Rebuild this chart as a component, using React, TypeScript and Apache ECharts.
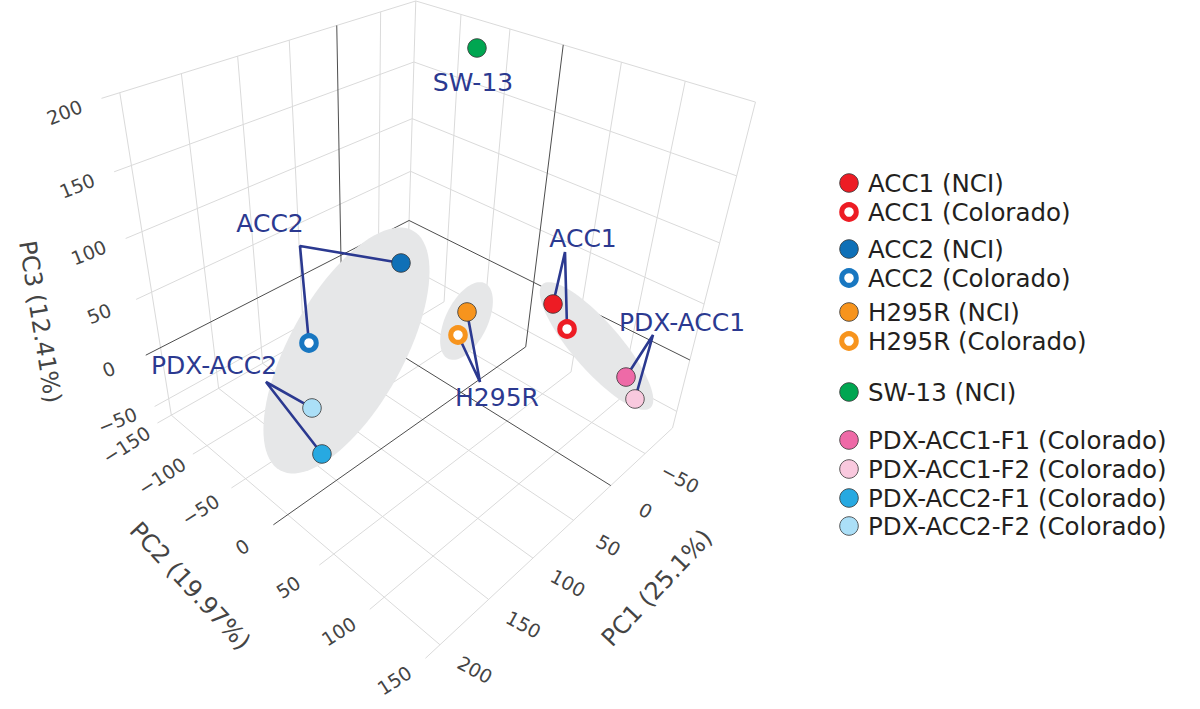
import React, { useEffect, useRef } from "react";
import * as echarts from "echarts";

// ---------------- data ----------------
const samples = [
  "ACC1 (NCI)", "ACC1 (Colorado)", "ACC2 (NCI)", "ACC2 (Colorado)",
  "H295R (NCI)", "H295R (Colorado)", "SW-13 (NCI)",
  "PDX-ACC1-F1 (Colorado)", "PDX-ACC1-F2 (Colorado)",
  "PDX-ACC2-F1 (Colorado)", "PDX-ACC2-F2 (Colorado)",
];
const pc1 = [-57.7, -56.9, 18.7, 118.8, -3.6, 14.5, -76.8, -82.3, -81.7, 154.5, 148.4];
const pc2 = [43.3, 60.0, -57.6, -62.0, -3.0, 3.4, -68.6, 106.4, 118.2, -10.7, -27.2];
const pc3 = [15, 0, 40, 10, 10, 0, 185, -35, -50, -45, -15];
const sampleColors = [
  "#ed1c24", "#ed1c24", "#0f70b7", "#1877c1", "#f7941d", "#f7941d", "#00a651",
  "#ee6aa7", "#f9c9de", "#27a9e1", "#abdff7",
];
const hollow = [false, true, false, true, false, true, false, false, false, false, false];

const pc1Ticks = [-50, 0, 50, 100, 150, 200];
const pc2Ticks = [-150, -100, -50, 0, 50, 100, 150];
const pc3Ticks = [-50, 0, 50, 100, 150, 200];
const pc1Range = [-93, 214];
const pc2Range = [-150, 150];
const pc3Range = [-67, 200];
const axisTitles = ["PC1 (25.1%)", "PC2 (19.97%)", "PC3 (12.41%)"];

const groupLabels = ["SW-13", "ACC2", "PDX-ACC2", "H295R", "ACC1", "PDX-ACC1"];
const groupMembers = [[6], [2, 3], [10, 9], [4, 5], [0, 1], [7, 8]];
const clusterMembers = [[2, 3, 9, 10], [4, 5], [0, 1, 7, 8]];

// ---------------- layout ----------------
type V3 = [number, number, number];
// screen anchors of the 3D frame (box corners / grid crossings) used to fit the camera
const FRAME_ANCHORS: { p: V3; s: [number, number] }[] = [
  { p: [-93, -150, 200], s: [420, 6] },
  { p: [-93, -150, 0], s: [409, 216] },
  { p: [214, -150, 200], s: [98, 99] },
  { p: [214, -150, 0], s: [143, 347] },
  { p: [-93, 150, 200], s: [757, 100] },
  { p: [-93, 150, 0], s: [693, 350] },
  { p: [-93, 150, -67], s: [670, 430] },
  { p: [-93, 0, -67], s: [527, 352] },
  { p: [214, 0, -67], s: [277, 528] },
  { p: [0, 150, -67], s: [610, 488] },
  { p: [200, 150, -67], s: [440, 645] },
  { p: [0, -150, 200], s: [333, 28] },
  { p: [-93, 0, 200], s: [565, 45] },
  { p: [0, -150, 0], s: [338, 252] },
  { p: [-50, 150, -67], s: [641, 456] },
  { p: [100, 150, -67], s: [532, 560] },
  { p: [214, -100, -67], s: [198, 460] },
  { p: [214, 50, -67], s: [322, 565] },
  { p: [214, 100, -67], s: [370, 607] },
  { p: [214, 150, -67], s: [423, 657] },
];
const LABEL_POS = [[473, 82], [270, 223], [214, 365], [497, 397], [583, 238], [682, 322]];
const LEADER_VERTEX: (number[] | null)[] = [null, [300, 246], [266, 382], [480, 382], [565, 252], [653, 335]];
// [dx from cluster centroid, dy, semi-major, semi-minor, angle deg]
const ELLIPSES = [
  [10.5, -16.5, 137, 57, 61],
  [4, -2.5, 42, 21, 64],
  [1.25, -6.25, 82, 24, -49],
];
const LEGEND_Y = [183, 212, 249, 278, 312, 341, 392, 440, 469, 498, 526];
const NAVY = "#2b3990";
const FONT = '"DejaVu Sans", Verdana, sans-serif';

const n3 = (p: number[]) => [(p[0] - 60) / 155, p[1] / 150, (p[2] - 66) / 133];
const n2 = (s: number[]) => [(s[0] - 420) / 300, (s[1] - 330) / 300];

function fitCamera(): number[] {
  const rows: number[][] = [];
  const rhs: number[] = [];
  for (const a of FRAME_ANCHORS) {
    const [x, y, z] = n3(a.p);
    const [u, v] = n2(a.s);
    rows.push([x, y, z, 1, 0, 0, 0, 0, -u * x, -u * y, -u * z]);
    rhs.push(u);
    rows.push([0, 0, 0, 0, x, y, z, 1, -v * x, -v * y, -v * z]);
    rhs.push(v);
  }
  const n = 11;
  const M = Array.from({ length: n }, () => new Array(n + 1).fill(0));
  for (let r = 0; r < rows.length; r++)
    for (let i = 0; i < n; i++) {
      for (let j = 0; j < n; j++) M[i][j] += rows[r][i] * rows[r][j];
      M[i][n] += rows[r][i] * rhs[r];
    }
  for (let c = 0; c < n; c++) {
    let piv = c;
    for (let r = c + 1; r < n; r++) if (Math.abs(M[r][c]) > Math.abs(M[piv][c])) piv = r;
    const tmp = M[c]; M[c] = M[piv]; M[piv] = tmp;
    for (let r = 0; r < n; r++) {
      if (r === c) continue;
      const f = M[r][c] / M[c][c];
      for (let k = c; k <= n; k++) M[r][k] -= f * M[c][k];
    }
  }
  return M.map((row, i) => row[n] / row[i]);
}

export default function App() {
  const ref = useRef<HTMLDivElement>(null);
  useEffect(() => {
    if (!ref.current) return;
    const P = fitCamera();
    const project = (X: number, Y: number, Z: number) => {
      const [x, y, z] = n3([X, Y, Z]);
      const w = P[8] * x + P[9] * y + P[10] * z + 1;
      const u = (P[0] * x + P[1] * y + P[2] * z + P[3]) / w;
      const v = (P[4] * x + P[5] * y + P[6] * z + P[7]) / w;
      return [u * 300 + 420, v * 300 + 330];
    };

    const [x0, x1] = pc1Range, [y0, y1] = pc2Range, [z0, z1] = pc3Range;
    const segs: number[][] = [];
    const add = (a: V3, b: V3, zero: boolean) => {
      const p = project(...a), q = project(...b);
      segs.push([p[0], p[1], q[0], q[1], zero ? 1 : 0]);
    };
    for (const t of pc1Ticks) add([t, y0, z0], [t, y0, z1], t === 0);
    for (const t of pc3Ticks) add([x0, y0, t], [x1, y0, t], t === 0);
    for (const t of pc2Ticks) add([x0, t, z0], [x0, t, z1], t === 0);
    for (const t of pc3Ticks) add([x0, y0, t], [x0, y1, t], t === 0);
    for (const t of pc1Ticks) add([t, y0, z0], [t, y1, z0], t === 0);
    for (const t of pc2Ticks) add([x0, t, z0], [x1, t, z0], t === 0);
    segs.sort((a, b) => a[4] - b[4]);

    const pts = samples.map((_, i) => project(pc1[i], pc2[i], pc3[i]));

    const ellData = clusterMembers.map((m, k) => {
      const cx = m.reduce((s, i) => s + pts[i][0], 0) / m.length + ELLIPSES[k][0];
      const cy = m.reduce((s, i) => s + pts[i][1], 0) / m.length + ELLIPSES[k][1];
      return [cx, cy, ELLIPSES[k][2], ELLIPSES[k][3], ELLIPSES[k][4]];
    });

    const leaderSeries = groupMembers
      .map((m, g) => {
        const v = LEADER_VERTEX[g];
        if (!v) return null;
        return {
          type: "line", z: 3, silent: true, symbol: "none", animation: false,
          lineStyle: { color: NAVY, width: 2.6, opacity: 1 },
          data: [pts[m[0]], v, pts[m[1]]],
        };
      })
      .filter(Boolean);

    const graphics: any[] = [];
    const txt = (text: string, x: number, y: number, size: number, fill: string, rotation = 0, align = "center", lh = size) =>
      graphics.push({
        type: "text", x, y, rotation, z: 10, silent: true,
        style: {
          text, fill, font: `${size}px ${FONT}`, lineHeight: lh,
          align, textAlign: align, verticalAlign: "middle", textVerticalAlign: "middle",
        },
      });
    const fmt = (t: number) => (t < 0 ? "\u2212" + Math.abs(t) : String(t));
    for (const t of pc3Ticks) { const p = project(x1, y0, t); txt(fmt(t), p[0] - 37, p[1] + 14, 19, "#444", 0.38); }
    for (const t of pc2Ticks) { const p = project(x1, t, z0); txt(fmt(t), p[0] - 31, p[1] + 22, 19, "#444", 0.57); }
    for (const t of pc1Ticks) { const p = project(t, y1, z0); txt(fmt(t), p[0] + 35, p[1] + 25, 19, "#444", -0.5); }
    txt(axisTitles[2], 40, 322, 24, "#444", -1.41);
    txt(axisTitles[1], 190, 586, 24, "#444", -0.82);
    txt(axisTitles[0], 657, 588, 24, "#444", 0.82);
    groupLabels.forEach((l, g) => txt(l, LABEL_POS[g][0], LABEL_POS[g][1], 25, NAVY));
    samples.forEach((s, i) => {
      const y = LEGEND_Y[i];
      if (hollow[i]) {
        graphics.push({ type: "circle", z: 10, silent: true, shape: { cx: 849, cy: y, r: 7.3 }, style: { fill: "#fff", stroke: sampleColors[i], lineWidth: 5 } });
      } else {
        graphics.push({ type: "circle", z: 10, silent: true, shape: { cx: 849, cy: y, r: 9.3 }, style: { fill: sampleColors[i], stroke: "#333", lineWidth: 0.8 } });
      }
      txt(s, 868, y, 24.5, "#231f20", 0, "left", 22);
    });

    const chart = echarts.init(ref.current, null, { renderer: "svg" });
    chart.setOption({
      animation: false,
      grid: { left: 0, right: 0, top: 0, bottom: 0 },
      xAxis: { type: "value", min: 0, max: 1200, show: false },
      yAxis: { type: "value", min: 0, max: 709, inverse: true, show: false },
      series: [
        {
          type: "custom", z: 1, silent: true, clip: false,
          data: segs,
          renderItem: (_p: any, api: any) => {
            const a = api.coord([api.value(0), api.value(1)]);
            const b = api.coord([api.value(2), api.value(3)]);
            const zero = api.value(4) === 1;
            return {
              type: "line",
              shape: { x1: a[0], y1: a[1], x2: b[0], y2: b[1] },
              style: { stroke: zero ? "#4d4d4d" : "#dadada", lineWidth: 1 },
            };
          },
        },
        {
          type: "custom", z: 2, silent: true, clip: false,
          data: ellData,
          renderItem: (_p: any, api: any) => {
            const c = api.coord([api.value(0), api.value(1)]);
            const a = api.value(2), b = api.value(3), ang = (api.value(4) * Math.PI) / 180;
            const points: number[][] = [];
            for (let k = 0; k < 96; k++) {
              const t = (k / 96) * Math.PI * 2;
              const ex = a * Math.cos(t), ey = b * Math.sin(t);
              points.push([c[0] + ex * Math.cos(ang) - ey * Math.sin(ang), c[1] - (ex * Math.sin(ang) + ey * Math.cos(ang))]);
            }
            return { type: "polygon", shape: { points }, style: { fill: "#e6e7e8" } };
          },
        },
        ...leaderSeries,
        {
          type: "scatter", z: 4, silent: true,
          data: pts.map((p, i) => ({
            value: p,
            symbolSize: hollow[i] ? 14.6 : 18.6,
            itemStyle: hollow[i]
              ? { color: "#fff", borderColor: sampleColors[i], borderWidth: 5, opacity: 1 }
              : { color: sampleColors[i], borderColor: "#333", borderWidth: 0.8, opacity: 1 },
          })),
        },
      ],
      graphic: graphics,
    });
    return () => chart.dispose();
  }, []);
  return <div ref={ref} style={{ position: "absolute", left: 0, top: 0, width: 1200, height: 709 }} />;
}
